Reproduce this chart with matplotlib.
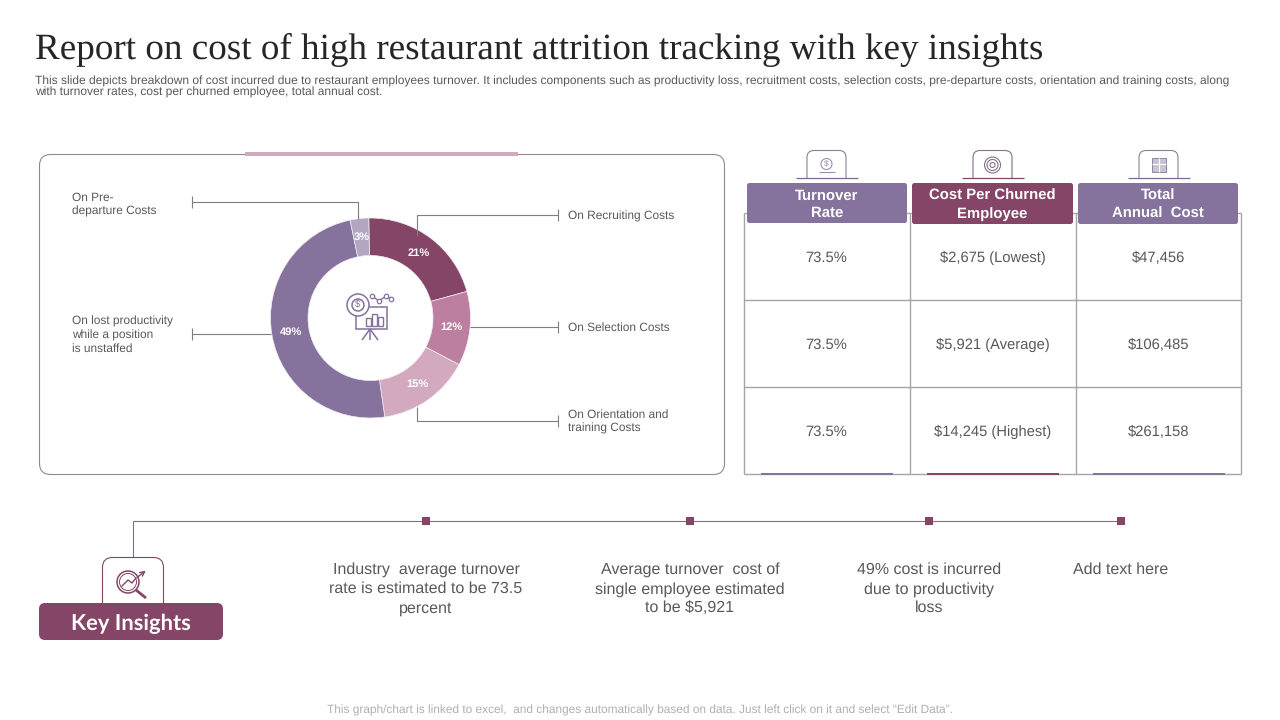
"""Restaurant attrition cost slide: donut, cost table and key insights."""

import matplotlib

matplotlib.use("Agg")
import matplotlib.pyplot as plt
from matplotlib.patches import Circle, FancyBboxPatch, Rectangle

PURPLE = "#85729D"
MAROON = "#854566"
PINK = "#BD7F9F"
LIGHT_PINK = "#D3A9BF"
LILAC = "#B2A6C3"
GREY_LINE = "#7F7F7F"
TEXT = "#595959"

TITLE = "Report on cost of high restaurant attrition tracking with key insights"
SUBTITLE = (
    "This slide depicts breakdown of cost incurred due to restaurant employees turnover. It includes components "
    "such as productivity loss, recruitment costs, selection costs, pre-departure costs, orientation and training "
    "costs, along\nwith turnover rates, cost per churned employee, total annual cost."
)
FOOTER = "This graph/chart is linked to excel,  and changes automatically based on data. Just left click on it and select \u201cEdit Data\u201d."

# clockwise from the top
SHARES = [21, 12, 15, 49, 3]
SHARE_COLORS = [MAROON, PINK, LIGHT_PINK, PURPLE, LILAC]

HEADERS = ["Turnover\nRate", "Cost Per Churned\nEmployee", "Total\nAnnual  Cost"]
HEADER_COLORS = [PURPLE, MAROON, PURPLE]
ROWS = [
    ["73.5%", "$2,675 (Lowest)", "$47,456"],
    ["73.5%", "$5,921 (Average)", "$106,485"],
    ["73.5%", "$14,245 (Highest)", "$261,158"],
]
INSIGHTS = [
    "Industry  average turnover\nrate is estimated to be 73.5\npercent",
    "Average turnover  cost of\nsingle employee estimated\nto be $5,921",
    "49% cost is incurred\ndue to productivity\nloss",
    "Add text here",
]

plt.rcParams["font.family"] = ["Liberation Sans", "DejaVu Sans"]
# unhinted glyphs, otherwise small text widths jump between font sizes
plt.rcParams["text.hinting"] = "no_hinting"


def px_line(ax, xs, ys, color=GREY_LINE, lw=0.8, z=2):
    ax.plot(xs, ys, color=color, lw=lw, solid_capstyle="butt", zorder=z)


def round_box(ax, x, y, w, h, face, edge="none", rad=4, lw=1.0, z=3):
    ax.add_patch(FancyBboxPatch((x + rad, y + rad), w - 2 * rad, h - 2 * rad,
                                boxstyle=f"round,pad={rad},rounding_size={rad}",
                                fc=face, ec=edge, lw=lw, zorder=z))


def tab(ax, cx, top, bottom, half, color, rad=7, z=2):
    # small tab with rounded top corners, open at the bottom
    round_box(ax, cx - half, top, 2 * half, bottom - top + 12, "white", color, rad=rad, lw=0.8, z=z)
    ax.add_patch(Rectangle((cx - half - 2, bottom + 0.5), 2 * half + 4, 14, fc="white", ec="none", zorder=z))


def money_icon(ax, cx, cy):
    c = "#9C8FB0"
    ax.add_patch(Circle((cx, cy - 1), 5.5, fc="none", ec=c, lw=0.8, zorder=5))
    ax.text(cx, cy - 1, "$", color=c, fontsize=6, ha="center", va="center", zorder=5)
    px_line(ax, [cx - 8, cx + 8], [cy + 7, cy + 7], c, 0.8, 5)


def target_icon(ax, cx, cy):
    for r in (8, 5.5, 2.5):
        ax.add_patch(Circle((cx, cy), r, fc="none", ec="#8A6F89", lw=0.8, zorder=5))


def calc_icon(ax, cx, cy):
    ax.add_patch(Rectangle((cx - 7, cy - 7), 14, 14, fc="#C9C4D4", ec="#8D86A0", lw=0.7, zorder=5))
    px_line(ax, [cx - 7, cx + 7], [cy - 1, cy - 1], "white", 0.8, 6)
    px_line(ax, [cx, cx], [cy - 7, cy + 7], "white", 0.8, 6)


def chart_icon(ax, cx, cy):
    c = PURPLE
    ax.add_patch(Rectangle((cx - 14, cy - 12), 31, 22, fc="none", ec=c, lw=1.1, zorder=5))
    ax.add_patch(Circle((cx - 12, cy - 14), 11, fc="white", ec=c, lw=1.1, zorder=6))
    ax.add_patch(Circle((cx - 12, cy - 14), 6, fc="white", ec=c, lw=1.1, zorder=6))
    ax.text(cx - 12, cy - 14, "$", color=c, fontsize=7, ha="center", va="center", zorder=7)
    for dx, h in ((-4, 8), (2, 12), (8, 9)):
        ax.add_patch(Rectangle((cx + dx, cy + 7 - h), 5, h, fc="none", ec=c, lw=1.0, zorder=7))
    px_line(ax, [cx, cx - 8], [cy + 10, cy + 21], c, 1.1, 5)
    px_line(ax, [cx, cx + 8], [cy + 10, cy + 21], c, 1.1, 5)
    px_line(ax, [cx, cx], [cy + 10, cy + 21], c, 1.1, 5)
    trend_x = [cx + 2, cx + 9, cx + 16, cx + 21]
    trend_y = [cy - 23, cy - 18, cy - 23, cy - 20]
    ax.plot(trend_x, trend_y, color=c, lw=1.0, marker="o", ms=3.2, mfc="white", mew=0.9, zorder=6)


def insight_icon(ax, cx, cy):
    c = MAROON
    ax.add_patch(Circle((cx - 4, cy - 1), 11, fc="none", ec=c, lw=1.1, zorder=5))
    ax.add_patch(Circle((cx - 4, cy - 1), 8.5, fc="none", ec=c, lw=0.7, zorder=5))
    px_line(ax, [cx + 4, cx + 14], [cy + 7, cy + 15], c, 2.0, 5)
    ax.plot([cx - 10, cx - 4, cx, cx + 4], [cy + 3, cy - 3, cy, cy - 5], color=c, lw=1.0, zorder=6)
    ax.annotate("", xy=(cx + 16, cy - 14), xytext=(cx + 3, cy - 4),
                arrowprops=dict(arrowstyle="->", color=c, lw=1.0, mutation_scale=8), zorder=6)


def main():
    fig = plt.figure(figsize=(12.8, 7.2), dpi=100, facecolor="white")
    ax = fig.add_axes([0, 0, 1, 1])
    ax.set_xlim(0, 1280)
    ax.set_ylim(720, 0)
    ax.axis("off")

    ax.text(35, 50, TITLE, fontsize=26.7, family="Liberation Serif", color="#262626", va="center", ha="left")
    ax.text(35, 87, SUBTITLE, fontsize=8.65, color=TEXT, va="center", ha="left", linespacing=0.98)
    ax.text(639.5, 710, FOOTER, fontsize=8.6, color="#B0B0B0", va="center", ha="center")

    # left panel, no fill so the donut axes underneath stays visible
    round_box(ax, 39.5, 154.5, 685, 320, "none", "#8C8C8C", rad=11, lw=0.8, z=1)
    ax.add_patch(Rectangle((245, 152), 273, 4, fc=LIGHT_PINK, ec="none", zorder=2))

    cx, cy, radius = 370.5, 318.0, 100.0
    pie_ax = fig.add_axes([(cx - radius) / 1280, 1 - (cy + radius) / 720, 2 * radius / 1280, 2 * radius / 720])
    _, _, pct = pie_ax.pie(
        SHARES, colors=SHARE_COLORS, startangle=91, counterclock=False, radius=1.0,
        autopct="%d%%", pctdistance=0.81,
        wedgeprops=dict(width=0.375, edgecolor="#F4EEF3", linewidth=0.5),
    )
    for t in pct:
        t.set_color("white")
        t.set_fontsize(8)
        t.set_fontweight("bold")
    pie_ax.set_xlim(-1, 1)
    pie_ax.set_ylim(-1, 1)
    pie_ax.patch.set_alpha(0)
    pie_ax.set_zorder(1)
    ax.set_zorder(2)
    ax.patch.set_alpha(0)
    chart_icon(ax, 370, 319)

    # leader lines
    px_line(ax, [192, 192], [196, 208])
    px_line(ax, [192, 358, 358], [202, 202, 219])
    px_line(ax, [192, 192], [328, 340])
    px_line(ax, [192, 271], [334, 334])
    px_line(ax, [417, 417, 558], [236, 215, 215])
    px_line(ax, [558, 558], [209, 221])
    px_line(ax, [470, 558], [327, 327])
    px_line(ax, [558, 558], [321, 333])
    px_line(ax, [417, 417, 558], [407, 421, 421])
    px_line(ax, [558, 558], [415, 427])

    labels = [
        (72, 204.5, "On Pre-\ndeparture Costs"),
        (72, 335.5, "On lost productivity\nwhile a position\nis unstaffed"),
        (568, 216, "On Recruiting Costs"),
        (568, 328, "On Selection Costs"),
        (568, 421.5, "On Orientation and\ntraining Costs"),
    ]
    for x, y, s in labels:
        ax.text(x, y, s, fontsize=8.6, color=TEXT, ha="left", va="center", linespacing=1.29)

    # cost table
    col_edges = [744, 910, 1076, 1241]
    row_edges = [213, 300, 387, 474]
    for x in col_edges:
        px_line(ax, [x, x], [row_edges[0], row_edges[-1]], "#A6A6A6", 1.0, 1)
    for y in row_edges:
        px_line(ax, [col_edges[0], col_edges[-1]], [y, y], "#A6A6A6", 1.0, 1)

    header_x = [747, 912, 1078]
    header_w = [160, 161, 160]
    header_y = [183, 183, 183]
    header_h = [40, 41, 41]
    centers = [826.5, 992.5, 1158.5]
    icons = [money_icon, target_icon, calc_icon]
    for i, head in enumerate(HEADERS):
        round_box(ax, header_x[i], header_y[i], header_w[i], header_h[i], HEADER_COLORS[i], rad=2.5)
        ax.text(header_x[i] + header_w[i] / 2, header_y[i] + header_h[i] / 2 + 1.5, head, fontsize=10.7, color="white",
                fontweight="bold", ha="center", va="center", linespacing=1.3, zorder=4)
        tab_color = MAROON if i == 1 else "#7D6C92"
        tab(ax, centers[i], 150.5, 177, 19.5, "#8A7E9C" if i != 1 else "#8A6F89")
        px_line(ax, [centers[i] - 31, centers[i] + 31], [177.5, 177.5], tab_color, 0.9, 3)
        icons[i](ax, centers[i], 165)
        ax.add_patch(Rectangle((centers[i] - 66, 472.8), 132, 1.8, fc=HEADER_COLORS[i], ec="none", zorder=3))

    row_y = [258, 345, 432]
    for y, row in zip(row_y, ROWS):
        for x, val in zip(centers, row):
            ax.text(x, y, val, fontsize=10.6, color=TEXT, ha="center", va="center")

    # key insights strip
    insight_x = [426, 690, 929, 1121]
    px_line(ax, [132.5, 132.5], [521, 558], "#7F6F7F", 0.8, 2)
    px_line(ax, [132.5, insight_x[-1]], [521, 521], "#7F6F7F", 0.8, 2)
    for x, s in zip(insight_x, INSIGHTS):
        ax.add_patch(Rectangle((x - 4, 517), 8, 8, fc=MAROON, ec="none", zorder=3))
        ax.text(x, 562.5, s, fontsize=11.55, color=TEXT, ha="center", va="top", linespacing=1.36)

    round_box(ax, 102.5, 557.5, 61, 60, "white", MAROON, rad=10, lw=0.8, z=2)
    insight_icon(ax, 132, 583)
    round_box(ax, 39, 603, 184, 37, MAROON, rad=6)
    ax.text(130.5, 623.5, "Key Insights", fontsize=15.8, family="Lato", fontweight="bold",
            color="white", ha="center", va="center", zorder=4)

    fig.savefig("out.png", dpi=100)


if __name__ == "__main__":
    main()
